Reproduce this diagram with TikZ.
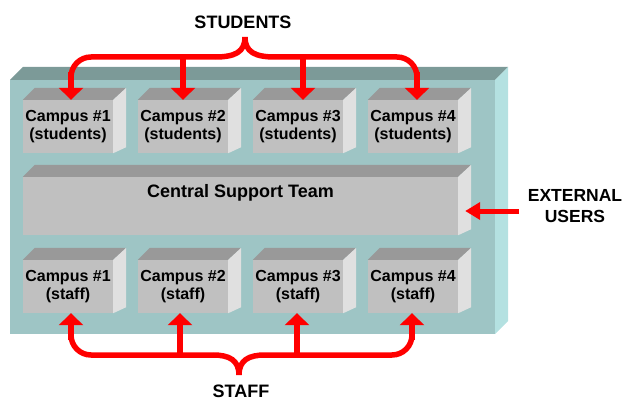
\documentclass[tikz,border=0pt]{standalone}
\usepackage{fontspec}
\setmainfont{Liberation Sans}
\usetikzlibrary{arrows.meta}
\definecolor{slabfront}{HTML}{9EC5C5}
\definecolor{slabtop}{HTML}{7C9A98}
\definecolor{slabside}{HTML}{B4E1E1}
\definecolor{boxfront}{HTML}{C0C0C0}
\definecolor{boxtop}{HTML}{999999}
\definecolor{boxside}{HTML}{E0E0E0}
\definecolor{arrowred}{HTML}{FF0000}
\tikzset{
  cubefront/.style={rectangle, fill=boxfront, minimum width=90pt, minimum height=53pt, inner sep=0pt, align=center,
    font=\bfseries\fontsize{16}{18}\selectfont},
  bigfront/.style={rectangle, fill=boxfront, minimum width=435pt, minimum height=58pt, inner sep=0pt},
  lbl/.style={font=\bfseries\fontsize{17.5}{21}\selectfont, align=center, inner sep=0pt},
  redline/.style={draw=arrowred, line width=5.5pt, rounded corners=20pt},
  redarrow/.style={draw=arrowred, line width=5.5pt, -{Triangle[width=24pt,length=12pt]}},
  extarrow/.style={draw=arrowred, line width=5pt, -{Triangle[width=17pt,length=15pt]}},
}
\newcommand{\cubefaces}[1]{%
  \fill[boxtop] (#1.north west) -- ++(12,-12) -- ([shift={(13,-12)}]#1.north east) -- (#1.north east) -- cycle;
  \fill[boxside] (#1.north east) -- ++(13,-12) -- ([shift={(13,-6)}]#1.south east) -- (#1.south east) -- cycle;
}
\begin{document}
\begin{tikzpicture}[x=1pt,y=-1pt]
\useasboundingbox (0,0) rectangle (624,401);
% slab
\fill[slabtop] (10,80) -- (23,67) -- (508,67) -- (495,80) -- cycle;
\fill[slabside] (495,80) -- (508,67) -- (508,321) -- (495,334) -- cycle;
\fill[slabfront] (10,80) rectangle (495,334);
% top row
\foreach \i/\x in {1/68,2/183,3/298,4/413}{
  \node[cubefront] (s\i) at (\x,126.5) {Campus \#\i\\(students)};
  \cubefaces{s\i}
}
% central
\node[bigfront] (central) at (240.5,206) {};
\cubefaces{central}
\node[lbl, font=\bfseries\fontsize{18}{21}\selectfont] (centraltext) at (240.5,193) {Central Support Team};
% bottom row
\foreach \i/\x in {1/68,2/183,3/298,4/413}{
  \node[cubefront] (f\i) at (\x,286.5) {Campus \#\i\\(staff)};
  \cubefaces{f\i}
}
% labels
\node[lbl, font=\bfseries\fontsize{18}{21}\selectfont] (students) at (243,22) {STUDENTS};
\node[lbl, font=\bfseries\fontsize{18}{21}\selectfont] (staff) at (241,391.5) {STAFF};
\node[lbl] (external) at (575,206) {EXTERNAL\\USERS};
% students brace
\coordinate (tpeak) at (245,37);
\draw[redline] ([xshift=3pt]s1.north) ++(0,-23) -- (71,57) -- (215,57);
\draw[draw=arrowred, line width=5.5pt] (215,57) .. controls (235,57) and (245,52) .. (tpeak)
  .. controls (245,52) and (255,57) .. (275,57);
\draw[redline] (275,57) -- (417,57) -- (417,78);
\draw[redarrow] (71,72) -- ([xshift=3pt]s1.north);
\draw[redarrow] (417,72) -- ([xshift=4pt]s4.north);
\draw[redarrow] (183,57) -- (s2.north);
\draw[redarrow] (303,57) -- ([xshift=5pt]s3.north);
% staff brace
\coordinate (bpeak) at (239,375);
\draw[redline] (71,333) -- (71,355) -- (213,355);
\draw[draw=arrowred, line width=5.5pt] (213,355) .. controls (229,355) and (239,360) .. (bpeak)
  .. controls (239,360) and (249,355) .. (265,355);
\draw[redline] (265,355) -- (412,355) -- (412,333);
\draw[redarrow] (71,340) -- ([xshift=3pt]f1.south);
\draw[redarrow] (412,340) -- ([xshift=-1pt]f4.south);
\draw[redarrow] (180,355) -- ([xshift=-3pt]f2.south);
\draw[redarrow] (297,355) -- ([xshift=-1pt]f3.south);
% external
\coordinate (extstart) at (519,211);
\draw[extarrow] (extstart) -- ([xshift=7pt]central.east |- extstart);
\end{tikzpicture}
\end{document}
